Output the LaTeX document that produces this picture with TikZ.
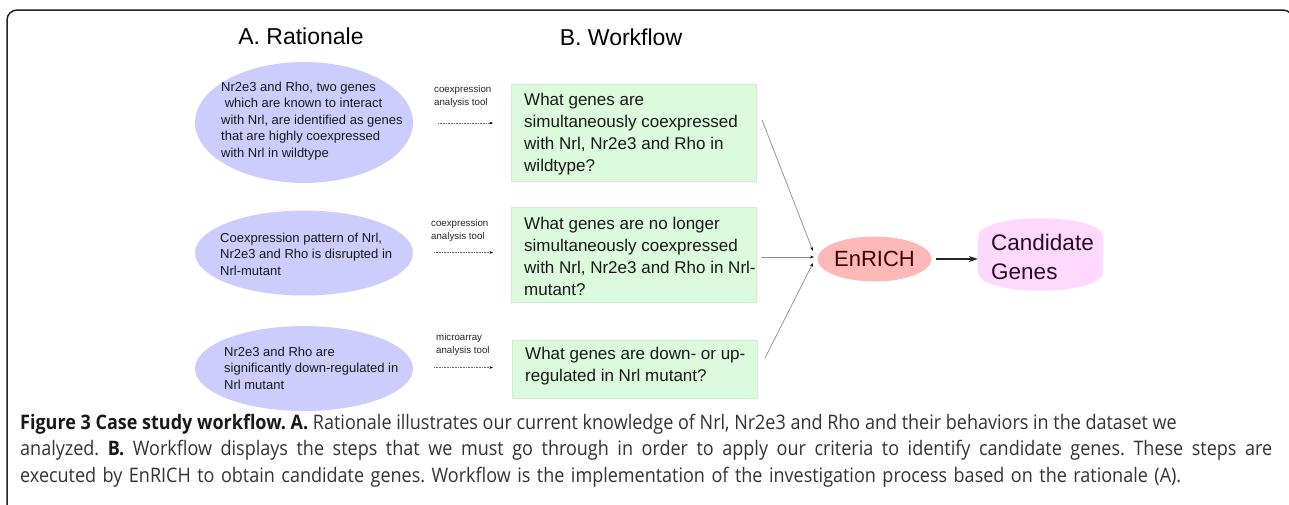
\documentclass[tikz,border=0pt]{standalone}
\usepackage{fontspec}
\setmainfont{Liberation Sans}
\newfontfamily\capfont{Open Sans}[FakeStretch=0.9]
\usetikzlibrary{shapes.geometric,arrows.meta}
\definecolor{lav}{HTML}{CCCCFF}
\definecolor{grn}{HTML}{DCFADC}
\definecolor{grnb}{HTML}{CDEFCD}
\definecolor{enr}{HTML}{FFB8B8}
\definecolor{enrt}{HTML}{3A0505}
\definecolor{cand}{HTML}{FFD8FF}
\definecolor{candt}{HTML}{2A0A2A}
\definecolor{frame}{HTML}{222222}
\definecolor{captxt}{HTML}{333333}
\frenchspacing
\begin{document}
\begin{tikzpicture}[x=1pt,y=-1pt,
  rat/.style={ellipse, fill=lav, minimum width=218pt, inner sep=0pt},
  rattxt/.style={anchor=west, align=left, inner sep=0pt, font=\fontsize{13}{16.5}\selectfont, text=black!90},
  tool/.style={anchor=west, align=left, inner sep=0pt, font=\fontsize{9.7}{13}\selectfont, text=black!85},
  ques/.style={rectangle, fill=grn, draw=grnb, line width=0.6pt, minimum width=245pt, inner sep=0pt},
  questxt/.style={anchor=west, align=left, inner sep=0pt, font=\fontsize{17}{22}\selectfont, text=black!90},
  title/.style={font=\fontsize{23}{27}\selectfont, inner sep=0pt},
  dotarr/.style={draw=black!60, line width=0.6pt, dash pattern=on 0.7pt off 0.9pt, -{Stealth[length=3.5pt,width=2.6pt,black]}},
  joinarr/.style={draw=black!45, line width=0.7pt, -{Stealth[length=4pt,width=2.8pt,black]}}
]
\useasboundingbox (0,0) rectangle (1289,504);
\fill[white] (0,0) rectangle (1289,504);
\begin{scope}
\clip (0,0) rectangle (1289,504);
\draw[frame, line width=1.5pt, rounded corners=10pt] (7,520) -- (7,10) -- (1293,10) -- (1293,520);
\end{scope}

% titles
\node[title] (tA) at (301,36) {A. Rationale};
\node[title] (tB) at (621,37) {B. Workflow};

% rationale ellipses
\node[rat, minimum height=121pt] (e1) at (304,122.5) {};
\node[rattxt] (e1t) at (221,121) {Nr2e3 and Rho, two genes\\\ which are known to interact\\with Nrl, are identified as genes\\that are highly coexpressed\\with Nrl in wildtype};
\node[rat, minimum height=85pt] (e2) at (304,253) {};
\node[rattxt] (e2t) at (220,254) {Coexpression pattern of Nrl,\\Nr2e3 and Rho is disrupted in\\Nrl-mutant};
\node[rat, minimum height=85pt] (e3) at (304,368.5) {};
\node[rattxt] (e3t) at (224,368) {Nr2e3 and Rho are\\significantly down-regulated in\\Nrl mutant};

% tool labels and dotted arrows
\node[tool] (t1) at (434,96) {coexpression\\analysis tool};
\node[tool] (t2) at (431,230) {coexpression\\analysis tool};
\node[tool] (t3) at (436,344) {microarray\\analysis tool};
\coordinate (a1s) at (438,123); \coordinate (a1e) at (493,123);
\coordinate (a2s) at (434,252.5); \coordinate (a2e) at (493,252.5);
\coordinate (a3s) at (434,367.5); \coordinate (a3e) at (493,367.5);
\draw[dotarr] (a1s) -- (a1e);
\draw[dotarr] (a2s) -- (a2e);
\draw[dotarr] (a3s) -- (a3e);

% question boxes
\node[ques, minimum height=97pt] (g1) at (633.5,132.5) {};
\node[questxt] (g1t) at (524,134.5) {What genes are\\simultaneously coexpressed\\with Nrl, Nr2e3 and Rho in\\wildtype?};
\node[ques, minimum height=95pt] (g2) at (634,254.5) {};
\node[questxt] (g2t) at (524,256) {What genes are no longer\\simultaneously coexpressed\\with Nrl, Nr2e3 and Rho in Nrl-\\mutant?};
\node[ques, minimum height=58pt] (g3) at (635,369) {};
\node[questxt] (g3t) at (525,366.5) {What genes are down- or up-\\regulated in Nrl mutant?};

% EnRICH and candidate
\node[ellipse, fill=enr, minimum width=100pt, minimum height=45pt, inner sep=0pt, text=enrt, font=\fontsize{22}{26}\selectfont] (en) at (874.5,259) {EnRICH};
\fill[cand] (978,237) .. controls (978,212) and (1103,212) .. (1103,237) -- (1103,272) .. controls (1103,297) and (978,297) .. (978,272) -- cycle;
\node[rectangle, minimum width=125pt, minimum height=75pt, inner sep=0pt] (cg) at (1040.5,254.5) {};
\node[anchor=west, align=left, inner sep=0pt, text=candt, font=\fontsize{22.5}{29}\selectfont] (cgt) at (991,256.5) {Candidate\\Genes};

% joining arrows
\coordinate (s1) at (762,120); \coordinate (j1) at (813,251);
\coordinate (s2) at (761,257); \coordinate (j2) at (814,257);
\coordinate (s3) at (765,358); \coordinate (j3) at (813,263);
\draw[joinarr] (s1) -- (j1);
\draw[joinarr] (s2) -- (j2);
\draw[joinarr] (s3) -- (j3);
\coordinate (ee) at ([xshift=4pt]en.east);
\draw[black!85, line width=1.2pt, -{Stealth[length=9pt,width=6pt]}] (ee) -- (ee -| cg.west);

% caption
\node[anchor=west, align=left, inner sep=0pt, text=captxt, font=\capfont\fontsize{20}{26.5}\selectfont] (cap) at (20,450.5) {{\bfseries\color{black!90}Figure 3 Case study workflow. A.} Rationale illustrates our current knowledge of Nrl, Nr2e3 and Rho and their behaviors in the dataset we\\\makebox[1252pt][s]{analyzed. {\bfseries\color{black!90}B.} Workflow displays the steps that we must go through in order to apply our criteria to identify candidate genes. These steps are}\\\makebox[1161pt][s]{executed by EnRICH to obtain candidate genes. Workflow is the implementation of the investigation process based on the rationale (A).}};
\end{tikzpicture}
\end{document}
